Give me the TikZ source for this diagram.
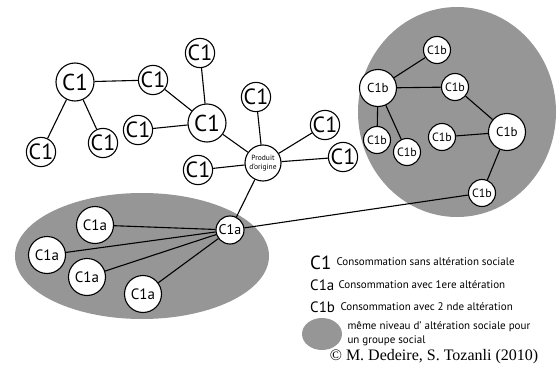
\documentclass[tikz,border=0pt]{standalone}
\usepackage{fontspec}
\setmainfont{PT Sans}
\newfontfamily\cpfont{Liberation Serif}
\usetikzlibrary{positioning}
\definecolor{grp}{RGB}{150,150,150}

\begin{document}
\begin{tikzpicture}[x=1pt,y=-1pt,
        c/.style={circle,draw,fill=white,line width=1.1pt,inner sep=0pt},
        cbig/.style={c,minimum size=38pt,font=\fontsize{23}{23}\selectfont},
        csmall/.style={c,minimum size=28pt,font=\fontsize{22}{22}\selectfont},
        cabig/.style={c,minimum size=37pt,font=\fontsize{15}{15}\selectfont},
        casmall/.style={c,minimum size=28pt,font=\fontsize{14}{14}\selectfont},
        cbbig/.style={c,minimum size=37pt,font=\fontsize{13}{13}\selectfont},
        cbsmall/.style={c,minimum size=27pt,font=\fontsize{12}{12}\selectfont},
        leg/.style={anchor=west,font=\fontsize{11}{13}\selectfont},
        link/.style={line width=1.1pt}]

        \useasboundingbox (0,0) rectangle (558,372);

        % groupes sociaux
        \fill[grp] (457,112) ellipse [x radius=99, y radius=105];
        \fill[grp] (142,256) ellipse [x radius=127, y radius=63];

        % C1
        \node[cbig] (l1) at (75,82) {C1};
        \node[csmall] (l2) at (153,80) {C1};
        \node[csmall] (l3) at (41,152) {C1};
        \node[csmall] (l4) at (103,143) {C1};
        \node[csmall] (t1) at (200,53) {C1};
        \node[cbig] (hub) at (207,123) {C1};
        \node[csmall] (l5) at (138,130) {C1};
        \node[csmall] (t2) at (256,97) {C1};
        \node[csmall] (l6) at (198,170) {C1};
        \node[csmall] (r1) at (325,125) {C1};
        \node[csmall] (r2) at (343,157) {C1};
        \node[c,minimum size=36pt,align=center,font=\fontsize{7.5}{9}\selectfont] (orig) at (263,163) {Produit\\d'origine};

        % C1a
        \node[casmall] (ahub) at (230,230) {C1a};
        \node[cabig] (a1) at (95,225) {C1a};
        \node[cabig] (a2) at (47,255) {C1a};
        \node[cabig] (a3) at (87,277) {C1a};
        \node[cabig] (a4) at (143,294) {C1a};

        % C1b
        \node[cbsmall] (b1) at (437,50) {C1b};
        \node[cbbig] (bl) at (378,88) {C1b};
        \node[cbsmall] (b2) at (455,87) {C1b};
        \node[cbbig] (br) at (507,132) {C1b};
        \node[cbsmall] (b3) at (377,140) {C1b};
        \node[cbsmall] (b4) at (407,152) {C1b};
        \node[cbsmall] (b5) at (442,137) {C1b};
        \node[cbsmall] (b6) at (482,193) {C1b};

        \draw[link] (l1) -- (l2);
        \draw[link] (l1) -- (l3);
        \draw[link] (l1) -- (l4);
        \draw[link] (l2) -- (hub);
        \draw[link] (t1) -- (hub);
        \draw[link] (l5) -- (hub);
        \draw[link] (hub) -- (orig);
        \draw[link] (t2) -- (orig);
        \draw[link] (l6) -- (orig);
        \draw[link] (r1) -- (orig);
        \draw[link] (r2) -- (orig);
        \draw[link] (orig) -- (ahub);
        \foreach \n in {a1,a2,a3,a4}
            \draw[link] (ahub) -- (\n);
        \draw[link] (ahub) -- (b6);
        \draw[link] (b6) -- (br);
        \draw[link] (br) -- (b2);
        \draw[link] (br) -- (b5);
        \draw[link] (b2) -- (bl);
        \draw[link] (bl) -- (b1);
        \draw[link] (bl) -- (b3);
        \draw[link] (bl) -- (b4);

        % legende
        \node[anchor=west,inner sep=0pt,font=\fontsize{19}{19}\selectfont] (k1) at (310,263) {C1};
        \node[leg] (t1k) at (333,262) {Consommation sans altération sociale};
        \node[anchor=west,inner sep=0pt,font=\fontsize{15}{15}\selectfont] (k2) at (310,285) {C1a};
        \node[leg] (t2k) at (335,285) {Consommation avec 1ere altération};
        \node[anchor=west,inner sep=0pt,font=\fontsize{15}{15}\selectfont] (k3) at (310,307) {C1b};
        \node[leg] (t3k) at (337,307) {Consommation avec 2 nde altération};
        \fill[grp] (322,334) ellipse [x radius=20, y radius=16];
        \node[leg,align=left,font=\fontsize{11}{14}\selectfont] (t4k) at (344,334) {même niveau d' altération sociale pour\\un groupe social};
        \node[font=\cpfont\fontsize{16}{16}\selectfont] (cp) at (434,357) {© M. Dedeire, S. Tozanli (2010)};
    \end{tikzpicture}
\end{document}
